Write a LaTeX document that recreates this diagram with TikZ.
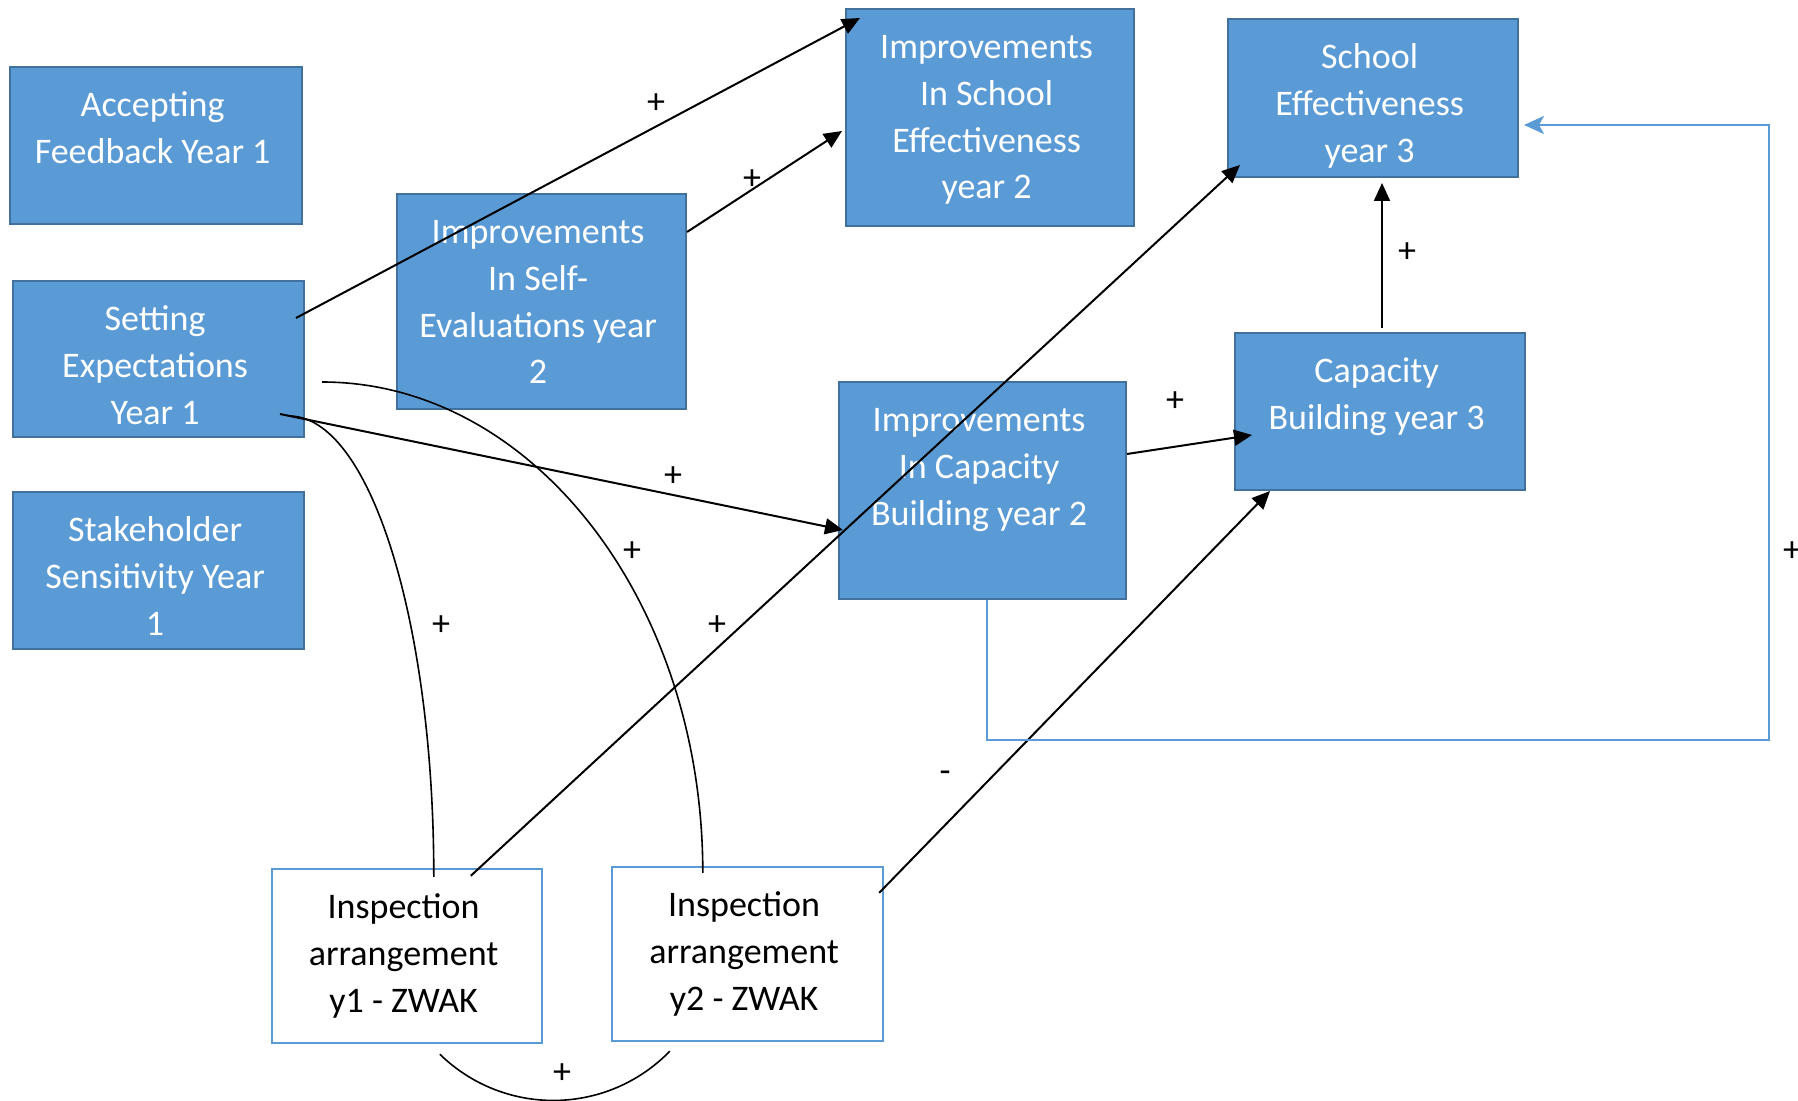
\documentclass[tikz,border=0pt]{standalone}
\usepackage{fontspec}
\setmainfont{Carlito}
\usetikzlibrary{arrows.meta,calc}
\definecolor{boxblue}{HTML}{5B9BD5}
\definecolor{boxedge}{HTML}{41719C}
\newcommand{\boxtext}[3]{\parbox[c][#2][t]{#1}{\centering\advance\rightskip 3.4pt\relax\vspace*{8.6pt}\strut#3}}
\tikzset{
  bluebox/.style={draw=boxedge, fill=boxblue, line width=1pt, inner sep=0pt, text=white,
    font=\fontsize{18}{23.3}\selectfont},
  inspbox/.style={draw=boxblue, fill=white, line width=1.2pt, inner sep=0pt, text=black,
    font=\fontsize{18}{23.3}\selectfont},
  conn/.style={draw=black, line width=1pt, -{Triangle[length=9pt,width=8pt]}},
  curv/.style={draw=black, line width=0.8pt},
  loopline/.style={draw=boxblue, line width=1pt, -{Stealth[length=10pt,width=9pt,inset=2.5pt]}},
  sign/.style={font=\fontsize{18}{20}\selectfont, inner sep=0pt, text=black}
}
\begin{document}
\begin{tikzpicture}[x=0.5pt,y=-0.5pt]
\useasboundingbox (0,0) rectangle (1798,1101);
\fill[white] (0,0) rectangle (1798,1101);

% boxes
\node[bluebox] (AF) at (156,145.5) {\boxtext{146pt}{78.5pt}{Accepting\\Feedback Year 1}};
\node[bluebox] (SE) at (158.5,359) {\boxtext{145.5pt}{78pt}{Setting\\Expectations\\Year 1}};
\node[bluebox] (SS) at (158.5,570.5) {\boxtext{145.5pt}{78.5pt}{Stakeholder\\Sensitivity Year\\1}};
\node[bluebox] (ISE) at (541.5,301.5) {\boxtext{144.5pt}{107.5pt}{Improvements\\In Self-\\Evaluations year\\2}};
\node[bluebox] (ISchE) at (990,117.5) {\boxtext{144pt}{108.5pt}{Improvements\\In School\\Effectiveness\\year 2}};
\node[bluebox] (SE3) at (1373,98) {\boxtext{145pt}{79pt}{School\\Effectiveness\\year 3}};
\node[bluebox] (ICB) at (982.5,490.5) {\boxtext{143.5pt}{108.5pt}{Improvements\\In Capacity\\Building year 2}};
\node[bluebox] (CB3) at (1380,411.5) {\boxtext{145pt}{78.5pt}{Capacity\\Building year 3}};
\node[inspbox] (IA1) at (407,956) {\boxtext{135pt}{87pt}{Inspection\\arrangement\\y1 - ZWAK}};
\node[inspbox] (IA2) at (747.5,954) {\boxtext{135.5pt}{87pt}{Inspection\\arrangement\\y2 - ZWAK}};

% connector end points
\coordinate (s1) at ($(SE.north east)+(-9,38)$);
\coordinate (e1) at ($(ISchE.north west)+(15,10)$);
\coordinate (s2) at ($(ISE.north east)+(0,39)$);
\coordinate (e2) at ($(ISchE.north west)+(-3,123)$);
\coordinate (s3) at ($(SE.north east)+(-25,134)$);
\coordinate (e3) at ($(ICB.north west)+(5,149)$);
\coordinate (sA) at ($(SE.north east)+(17,102)$);
\coordinate (eA) at ($(IA2.north west)+(92,7)$);
\coordinate (sB) at ($(SE.north east)+(-16,136)$);
\coordinate (eB) at ($(IA1.north west)+(163,9)$);
\coordinate (s6) at ($(IA1.north west)+(200,8)$);
\coordinate (e6) at ($(SE3.south west)+(13,-13)$);
\coordinate (s7) at ($(IA2.north east)+(-5,27)$);
\coordinate (e7) at ($(CB3.south west)+(36,0)$);
\coordinate (s8) at ($(ICB.north east)+(0,73)$);
\coordinate (e8) at ($(CB3.north west)+(18,103)$);
\coordinate (s9) at ($(CB3.north west)+(148,-4)$);
\coordinate (e9) at ($(SE3.south west)+(155,5)$);
\coordinate (s10) at ($(ICB.south west)+(149,0)$);
\coordinate (c10) at (1769,740);
\coordinate (e10) at ($(SE3.north east)+(5,107)$);
\coordinate (s11) at ($(IA1.south west)+(169,10)$);
\coordinate (e11) at ($(IA2.south west)+(59,9)$);

% connectors
\draw[conn] (s1) -- (e1);
\draw[conn] (s2) -- (e2);
\draw[conn] (s3) -- (e3);
\draw[curv] (sA) .. controls +(211,0) and +(0,-271) .. (eA);
\draw[curv] (sB) .. controls +(81,0) and +(0,-255) .. (eB);
\draw[conn] (s6) -- (e6);
\draw[conn] (s7) -- (e7);
\draw[conn] (s8) -- (e8);
\draw[conn] (s9) -- (e9);
\draw[loopline] (s10) |- (c10) |- (e10);
\draw[curv] (s11) to[bend right=45] (e11);

% signs
\node[sign] (l1) at (656,104) {+};
\node[sign] (l2) at (752,180) {+};
\node[sign] (l3) at (673,477) {+};
\node[sign] (l4) at (632,552) {+};
\node[sign] (l5) at (441,626) {+};
\node[sign] (l6) at (717,626) {+};
\node[sign] (l7) at (945,777) {-};
\node[sign] (l8) at (1175,402) {+};
\node[sign] (l9) at (1407,253) {+};
\node[sign] (l10) at (1792,552) {+};
\node[sign] (l11) at (562,1074) {+};
\end{tikzpicture}
\end{document}
